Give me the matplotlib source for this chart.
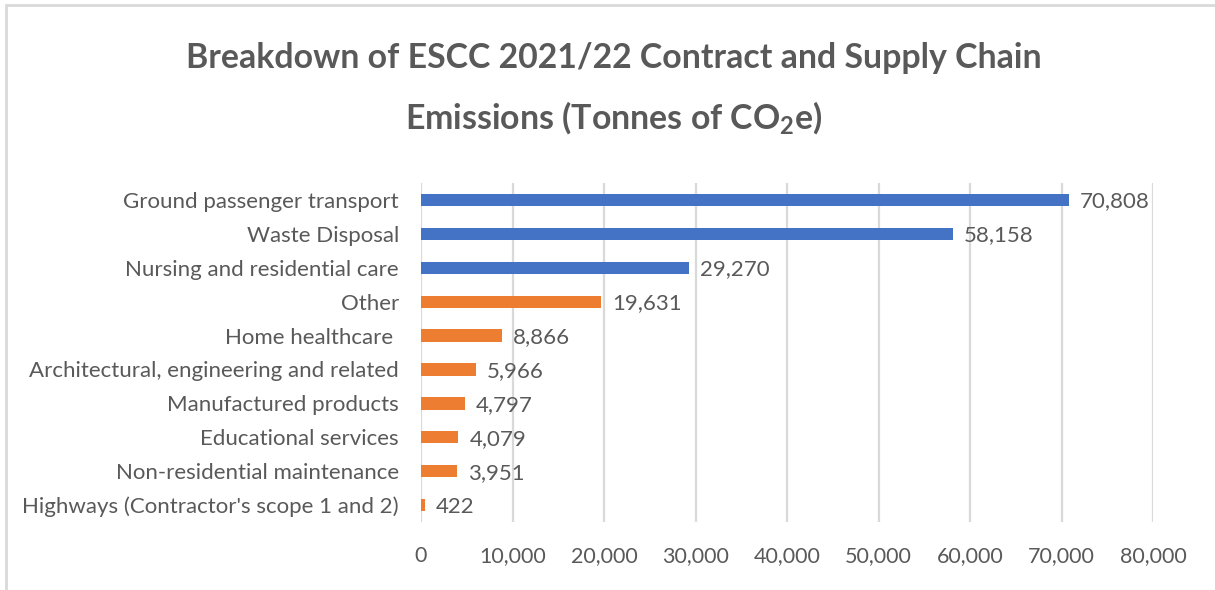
import matplotlib.pyplot as plt
from matplotlib.patches import Rectangle

plt.rcParams['font.family'] = ['Lato', 'DejaVu Sans']
plt.rcParams['mathtext.fontset'] = 'custom'
plt.rcParams['mathtext.rm'] = 'Lato:bold'

# Emissions by category (tonnes CO2e)
categories = [
    "Ground passenger transport",
    "Waste Disposal",
    "Nursing and residential care",
    "Other",
    "Home healthcare ",
    "Architectural, engineering and related",
    "Manufactured products",
    "Educational services",
    "Non-residential maintenance",
    "Highways (Contractor's scope 1 and 2)",
]
values = [70808, 58158, 29270, 19631, 8866, 5966, 4797, 4079, 3951, 422]
top_three = 3

blue = '#4472C4'
orange = '#ED7D31'
text_grey = '#595959'
grid_grey = '#D9D9D9'

fig = plt.figure(figsize=(12.15, 5.9), dpi=100)
ax = fig.add_axes([0.3465, 0.115, 0.6025, 0.575])

colors = [blue if i < top_three else orange for i in range(len(values))]
ypos = list(range(len(categories)))
ax.barh(ypos, values, height=0.36, color=colors, zorder=3)

ax.set_ylim(len(categories) - 0.5, -0.5)
ax.set_xlim(0, 80000)
ax.set_xticks(range(0, 80001, 10000))
ax.set_xticklabels([f'{v:,}' for v in range(0, 80001, 10000)])
ax.set_yticks(ypos)
ax.set_yticklabels(categories)

ax.tick_params(axis='both', length=0, labelcolor=text_grey)
ax.tick_params(axis='y', pad=16, labelsize=16)
ax.tick_params(axis='x', pad=17, labelsize=15.5)
ax.xaxis.grid(True, color=grid_grey, linewidth=1.6, zorder=0)
for s in ax.spines.values():
    s.set_visible(False)

for y, v in zip(ypos, values):
    ax.annotate(f'{v:,}', (v, y), xytext=(8, -1), textcoords='offset points',
                va='center', ha='left', fontsize=16, color=text_grey)

fig.text(0.505, 0.902, 'Breakdown of ESCC 2021/22 Contract and Supply Chain',
         ha='center', va='center', fontsize=24.4, fontweight='bold', color=text_grey)
fig.text(0.505, 0.80, r'Emissions (Tonnes of CO$_{\mathrm{2}}$e)',
         ha='center', va='center', fontsize=24.4, fontweight='bold', color=text_grey)

# chart frame
fig.patches.append(Rectangle((6 / 1215, -0.1), 1.2, 1 - 5 / 590 + 0.1,
                             transform=fig.transFigure, fill=False,
                             edgecolor='#D9D9D9', linewidth=2))

fig.savefig('out.png', dpi=100)
